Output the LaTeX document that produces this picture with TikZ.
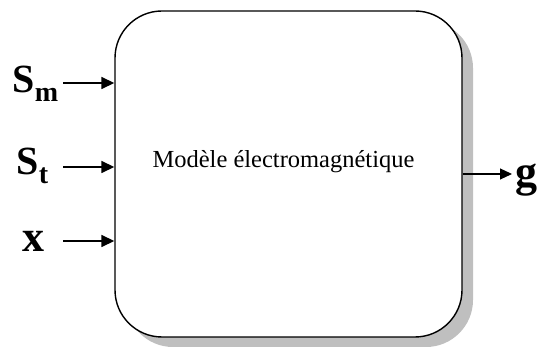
\documentclass[tikz,border=0pt]{standalone}
\usepackage{fontspec}
\setmainfont{Liberation Serif}
\usetikzlibrary{shadows,arrows.meta}

\newcommand{\biglbl}[2]{\bfseries{\fontsize{40}{40}\selectfont #1}\raisebox{-9pt}{\fontsize{28}{28}\selectfont #2}}

\tikzset{
    modelbox/.style={draw, line width=1.4pt, rounded corners=47pt, fill=white,
        minimum width=347pt, minimum height=326pt, inner sep=0pt,
        drop shadow={shadow xshift=11pt, shadow yshift=-10pt, fill=black!25, opacity=1}},
    sig/.style={line width=1.6pt, -{Triangle[length=13pt, width=12pt]}},
}

\begin{document}
\begin{tikzpicture}[x=1pt, y=1pt]
    \useasboundingbox (0, 0) rectangle (539, 347);

    % 1. Bloc du modèle
    \node[modelbox] (model) at (288.5, 173) {};
    \node[anchor=base west, font=\fontsize{24.5}{24.5}\selectfont] (title) at (149, 179) {Modèle électromagnétique};

    % 2. Entrées
    \node[anchor=base west] (sm) at (9, 254) {\biglbl{S}{m}};
    \node[anchor=base west] (st) at (13, 172) {\biglbl{S}{t}};
    \node[anchor=base west, font=\bfseries\fontsize{44}{44}\selectfont] (xin) at (19, 95) {x};
    \coordinate (sm0) at (63, 264);
    \coordinate (st0) at (63, 180);
    \coordinate (x0) at (63, 106);
    \draw[sig] (sm0) -- (sm0 -| model.west);
    \draw[sig] (st0) -- (st0 -| model.west);
    \draw[sig] (x0) -- (x0 -| model.west);

    % 3. Sortie
    \coordinate (g0) at (512, 173);
    \draw[sig, line width=1.2pt, -{Triangle[length=12pt, width=11pt]}] (model.east |- g0) -- (g0);
    \node[anchor=base west, font=\bfseries\fontsize{44}{44}\selectfont] (gout) at (512, 160) {g};
\end{tikzpicture}
\end{document}
